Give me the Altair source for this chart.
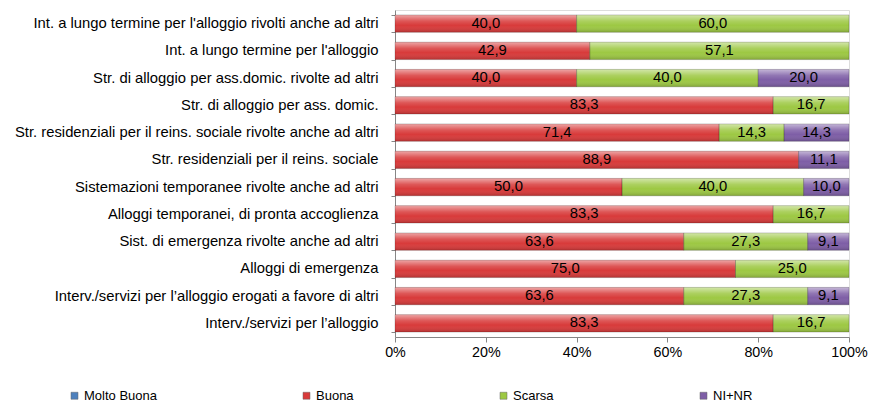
import altair as alt
import pandas as pd

categories = [
    "Int. a lungo termine per l'alloggio rivolti anche ad altri",
    "Int. a lungo termine per l'alloggio",
    "Str. di alloggio per ass.domic. rivolte  ad altri",
    "Str. di alloggio per ass. domic.",
    "Str. residenziali per il reins. sociale rivolte anche ad altri",
    "Str. residenziali per il reins. sociale",
    "Sistemazioni temporanee rivolte anche ad altri",
    "Alloggi temporanei, di pronta accoglienza",
    "Sist. di emergenza rivolte anche ad altri",
    "Alloggi di emergenza",
    "Interv./servizi per l\u2019alloggio erogati a favore di altri",
    "Interv./servizi per l\u2019alloggio",
]
molto_buona = [0, 0, 0, 0, 0, 0, 0, 0, 0, 0, 0, 0]
buona = [40.0, 42.9, 40.0, 83.3, 71.4, 88.9, 50.0, 83.3, 63.6, 75.0, 63.6, 83.3]
scarsa = [60.0, 57.1, 40.0, 16.7, 14.3, 0, 40.0, 16.7, 27.3, 25.0, 27.3, 16.7]
ni_nr = [0, 0, 20.0, 0, 14.3, 11.1, 10.0, 0, 9.1, 0, 9.1, 0]

series_names = ["Molto Buona", "Buona", "Scarsa", "NI+NR"]
series_colors = ["#4F81BD", "#D83A3A", "#9DC843", "#7E5EA6"]
x_ticks = [0, 20, 40, 60, 80, 100]

rows = []
for i, c in enumerate(categories):
    for k, (name, vals) in enumerate(
        [("Molto Buona", molto_buona), ("Buona", buona), ("Scarsa", scarsa), ("NI+NR", ni_nr)]
    ):
        if vals[i] > 0:
            rows.append({"cat": c, "serie": name, "ord": k, "v": vals[i]})
df = pd.DataFrame(rows)

FONT = "Liberation Sans"
FS = 14.8
FS_X = 14.3
FS_LEG = 13

base = alt.Chart(df).transform_stack(
    stack="v", groupby=["cat"], sort=[alt.SortField("ord")], as_=["x0", "x1"]
).transform_calculate(
    mid="(datum.x0 + datum.x1) / 2",
    lab="replace(format(datum.v, '.1f'), '.', ',')",
)

y_enc = alt.Y(
    "cat:N",
    sort=categories,
    title=None,
    scale=alt.Scale(paddingInner=0.36, paddingOuter=0.18),
    axis=alt.Axis(
        tickBand="extent",
        tickSize=4,
        tickColor="#868686",
        domainColor="#868686",
        labelPadding=13,
        labelFontSize=FS,
        labelFont=FONT,
        labelColor="#000000",
        labelLimit=500,
    ),
)

x_scale = alt.Scale(domain=[0, 100], nice=False)

bars = base.mark_bar().encode(
    y=y_enc,
    x=alt.X(
        "x0:Q",
        scale=x_scale,
        title=None,
        axis=alt.Axis(
            values=x_ticks,
            labelExpr="datum.value + '%'",
            labelFlush=False,
            grid=False,
            tickSize=5,
            tickColor="#868686",
            domainColor="#868686",
            labelFontSize=FS_X,
            labelFont=FONT,
            labelColor="#000000",
            labelPadding=3,
        ),
    ),
    x2="x1:Q",
    color=alt.Color(
        "serie:N",
        scale=alt.Scale(domain=series_names, range=series_colors),
        legend=alt.Legend(
            title=None,
            orient="none",
            legendX=-327,
            legendY=379,
            direction="horizontal",
            symbolType="square",
            symbolSize=49,
            symbolStrokeWidth=0.5,
            symbolStrokeColor="#666666",
            labelFontSize=FS_LEG,
            labelFont=FONT,
            labelColor="#000000",
            labelOffset=3,
            columnPadding=143,
        ),
    ),
)

shade = base.mark_bar(
    fill=alt.Gradient(
        gradient="linear",
        stops=[
            alt.GradientStop(color="rgba(255,255,255,0.55)", offset=0),
            alt.GradientStop(color="rgba(255,255,255,0.15)", offset=0.35),
            alt.GradientStop(color="rgba(255,255,255,0.0)", offset=0.6),
            alt.GradientStop(color="rgba(0,0,0,0.18)", offset=1),
        ],
        x1=0, x2=0, y1=0, y2=1,
    ),
    stroke="rgba(0,0,0,0.3)",
    strokeWidth=0.6,
).encode(y=y_enc, x=alt.X("x0:Q", scale=x_scale, title=None), x2="x1:Q")

labels = base.mark_text(fontSize=FS, font=FONT, color="#000000").encode(
    y=y_enc,
    x=alt.X("mid:Q", scale=x_scale, title=None),
    text="lab:N",
)

chart = alt.layer(bars, shade, labels).properties(
    width=454,
    height=327,
    autosize="none",
    padding={"left": 387, "top": 2, "right": 21, "bottom": 66},
).configure_view(stroke=None).configure(font=FONT)

chart.save("out.html", embed_options={"renderer": "svg", "actions": False})
